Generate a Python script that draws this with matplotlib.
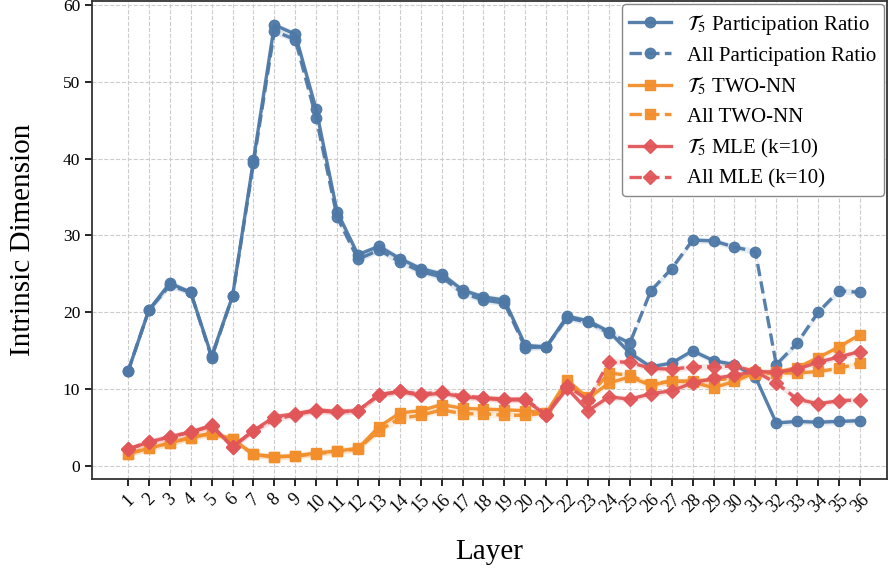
import matplotlib
matplotlib.use('Agg')
import matplotlib.pyplot as plt

####################################################################################################

plt.rcParams['font.family'] = ['Liberation Serif', 'DejaVu Serif']
plt.rcParams['mathtext.fontset'] = 'stix'

layers = list(range(1, 37))

# Participation Ratio
t5_pr = [12.3, 20.3, 23.8, 22.6, 14.3, 22.1, 39.8, 57.4, 56.2, 46.4, 33.1, 27.5,
         28.6, 27.0, 25.7, 25.0, 22.9, 22.0, 21.6, 15.7, 15.5, 19.5, 18.9, 17.5,
         14.7, 12.9, 13.4, 15.0, 13.7, 13.2, 11.6, 5.6, 5.8, 5.7, 5.8, 5.9]
all_pr = [12.3, 20.3, 23.5, 22.6, 14.1, 22.1, 39.4, 56.6, 55.5, 45.3, 32.4, 26.9,
          28.1, 26.6, 25.3, 24.6, 22.5, 21.6, 21.2, 15.4, 15.5, 19.3, 18.7, 17.3,
          16.0, 22.8, 25.7, 29.4, 29.3, 28.5, 27.9, 13.2, 16.0, 20.0, 22.8, 22.6]

# TWO-NN
t5_twonn = [1.6, 2.3, 3.0, 3.7, 4.3, 3.5, 1.5, 1.2, 1.3, 1.7, 1.95, 2.3,
            5.1, 6.9, 7.2, 8.0, 7.5, 7.4, 7.3, 7.2, 6.9, 11.2, 8.8, 10.8,
            11.6, 10.5, 11.1, 10.9, 10.2, 11.0, 12.2, 12.2, 12.8, 14.1, 15.5, 17.1]
all_twonn = [1.6, 2.3, 3.0, 3.7, 4.2, 3.5, 1.5, 1.2, 1.3, 1.6, 1.9, 2.2,
             4.6, 6.2, 6.6, 7.3, 6.8, 6.8, 6.6, 6.6, 6.9, 10.5, 9.0, 12.1,
             11.8, 10.7, 11.0, 11.1, 11.2, 11.4, 12.0, 12.1, 12.1, 12.3, 12.7, 13.4]

# MLE (k=10)
t5_mle = [2.2, 3.1, 3.8, 4.4, 5.3, 2.5, 4.6, 6.4, 6.8, 7.3, 7.1, 7.2,
          9.3, 9.7, 9.2, 9.5, 9.0, 8.8, 8.6, 8.6, 6.6, 10.1, 7.2, 9.0,
          8.7, 9.4, 9.8, 10.8, 11.4, 11.8, 12.3, 12.2, 12.6, 13.5, 14.2, 14.9]
all_mle = [2.2, 3.1, 3.8, 4.4, 5.2, 2.5, 4.6, 6.0, 6.7, 7.2, 7.0, 7.2,
           9.2, 9.7, 9.4, 9.6, 9.1, 8.9, 8.7, 8.7, 6.7, 10.4, 8.6, 13.6,
           13.5, 12.7, 12.6, 12.9, 12.95, 13.0, 12.3, 10.8, 8.7, 8.1, 8.5, 8.6]

blue = '#4e79a7'
orange = '#f28e2b'
red = '#e15759'
band = 0.4  # half-width of the faint shaded band

####################################################################################################

fig, ax = plt.subplots(figsize=(8.88, 5.71), dpi=100)
fig.subplots_adjust(left=0.1036, right=0.999, top=0.998, bottom=0.161)

series = [
    (t5_pr, blue, 'o', '-', r'$\mathcal{T}_5$ Participation Ratio'),
    (all_pr, blue, 'o', '--', 'All Participation Ratio'),
    (t5_twonn, orange, 's', '-', r'$\mathcal{T}_5$ TWO-NN'),
    (all_twonn, orange, 's', '--', 'All TWO-NN'),
    (t5_mle, red, 'D', '-', r'$\mathcal{T}_5$ MLE (k=10)'),
    (all_mle, red, 'D', '--', 'All MLE (k=10)'),
]

for values, color, marker, ls, label in series:
    lo = [v - band for v in values]
    hi = [v + band for v in values]
    ax.fill_between(layers, lo, hi, color=color, alpha=0.15, linewidth=0)
    ax.plot(layers, values, color=color, marker=marker, linestyle=ls, linewidth=2.4,
            markersize=7.5 if marker != 'D' else 7, label=label, alpha=0.95)

ax.set_xlim(-0.72, 37.3)
ax.set_ylim(-1.7, 60.5)
ax.set_xticks(layers)
ax.set_xticklabels([str(l) for l in layers], rotation=45, fontsize=13)
ax.set_yticks(range(0, 61, 10))
ax.tick_params(axis='y', labelsize=12.5)
ax.tick_params(length=5, width=1.2)
ax.grid(True, linestyle='--', color='#cccccc', linewidth=0.8)
ax.set_axisbelow(True)
for s in ax.spines.values():
    s.set_linewidth(1.3)
    s.set_color('#333333')

ax.set_xlabel('Layer', fontsize=21, labelpad=17)
ax.set_ylabel('Intrinsic Dimension', fontsize=21, labelpad=19)

leg = ax.legend(loc='upper right', fontsize=15, frameon=True, fancybox=True,
                edgecolor='#888888', framealpha=1.0, handlelength=2.0,
                borderaxespad=0.15, labelspacing=0.45, borderpad=0.35)

fig.savefig('out.png', dpi=100)
